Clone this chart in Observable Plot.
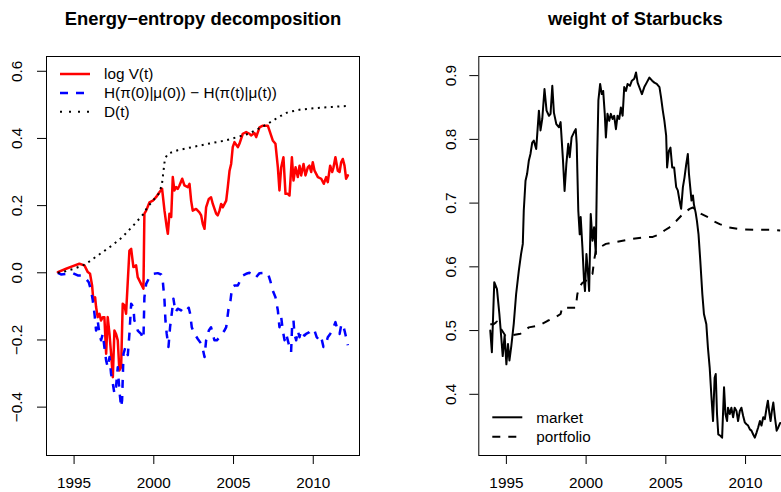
<!DOCTYPE html>
<html><head><meta charset="utf-8">
<script src="https://cdn.jsdelivr.net/npm/d3@7"></script>
<script src="https://cdn.jsdelivr.net/npm/@observablehq/plot@0.6"></script>
<style>
body{margin:0;background:#fff;}
#wrap{display:flex;width:781px;height:492px;overflow:hidden;background:#fff;}
#left{width:390px;height:492px;flex:none;}
#right{width:391px;height:492px;overflow:hidden;flex:none;}
svg{display:block;max-width:none !important;}
</style></head>
<body><div id="wrap"><div id="left"></div><div id="right"></div></div>
<script>
// ---------- tick labels / texts ----------
const xTicks = [1995, 2000, 2005, 2010];
const leftYTicks = [-0.4, -0.2, 0, 0.2, 0.4, 0.6];
const rightYTicks = [0.4, 0.5, 0.6, 0.7, 0.8, 0.9];
const leftTitle = "Energy\u2212entropy decomposition";
const rightTitle = "weight of Starbucks";
const leftLegendLabels = ["log V(t)", "H(\u03c0(0)|\u03bc(0)) \u2212 H(\u03c0(t)|\u03bc(t))", "D(t)"];
const rightLegendLabels = ["market", "portfolio"];

// ---------- left panel series ----------
const logVYears = [1993.98,1994.50,1994.92,1995.33,1995.65,1995.86,1996.00,1996.13,1996.21,1996.32,
1996.38,1996.48,1996.59,1996.69,1996.80,1996.90,1997.01,1997.11,1997.22,1997.32,
1997.43,1997.53,1997.63,1997.74,1997.84,1997.95,1998.05,1998.16,1998.26,1998.47,
1998.58,1998.72,1998.89,1998.99,1999.20,1999.35,1999.41,1999.52,1999.73,1999.94,
2000.14,2000.35,2000.52,2000.67,2000.81,2000.88,2000.98,2001.09,2001.19,2001.29,
2001.40,2001.50,2001.61,2001.78,2001.92,2002.13,2002.24,2002.34,2002.44,2002.65,
2002.86,2002.97,2003.07,2003.18,2003.28,2003.45,2003.59,2003.70,2003.91,2004.01,
2004.12,2004.22,2004.33,2004.54,2004.64,2004.75,2004.85,2004.95,2005.06,2005.27,
2005.37,2005.58,2005.79,2006.00,2006.10,2006.31,2006.42,2006.63,2006.84,2007.15,
2007.25,2007.46,2007.63,2007.78,2007.88,2007.99,2008.13,2008.26,2008.40,2008.51,
2008.66,2008.76,2008.89,2009.03,2009.14,2009.24,2009.39,2009.51,2009.66,2009.76,
2009.87,2009.97,2010.08,2010.29,2010.50,2010.66,2010.81,2010.91,2011.06,2011.19,
2011.27,2011.39,2011.54,2011.65,2011.75,2011.85,2011.96,2012.06,2012.17];
const logV = [0.002,0.012,0.020,0.027,0.022,0.002,-0.003,-0.038,-0.082,-0.073,
-0.102,-0.132,-0.122,-0.142,-0.132,-0.132,-0.241,-0.132,-0.182,-0.241,
-0.311,-0.172,-0.182,-0.201,-0.291,-0.281,-0.092,-0.097,-0.122,0.066,
0.071,0.017,0.022,-0.013,-0.033,-0.047,0.176,0.185,0.210,0.215,
0.225,0.240,0.250,0.185,0.136,0.116,0.176,0.166,0.285,0.245,
0.255,0.250,0.260,0.280,0.260,0.255,0.265,0.215,0.185,0.190,
0.180,0.171,0.146,0.131,0.195,0.220,0.225,0.205,0.176,0.171,
0.185,0.205,0.195,0.215,0.255,0.304,0.324,0.374,0.389,0.374,
0.384,0.414,0.419,0.414,0.409,0.416,0.404,0.433,0.438,0.438,
0.424,0.394,0.384,0.314,0.245,0.314,0.344,0.235,0.235,0.230,
0.344,0.275,0.314,0.285,0.319,0.290,0.324,0.290,0.314,0.319,
0.300,0.329,0.304,0.285,0.280,0.265,0.285,0.270,0.319,0.300,
0.314,0.344,0.304,0.300,0.329,0.339,0.319,0.280,0.290];

const entropyYears = [1993.98,1994.18,1994.50,1994.92,1995.23,1995.54,1995.75,1995.92,1996.07,1996.17,
1996.28,1996.38,1996.48,1996.59,1996.69,1996.80,1996.90,1997.01,1997.11,1997.22,
1997.32,1997.43,1997.53,1997.63,1997.74,1997.84,1997.95,1998.01,1998.10,1998.22,
1998.37,1998.47,1998.58,1998.72,1998.78,1998.89,1998.99,1999.20,1999.35,1999.41,
1999.52,1999.73,1999.94,2000.25,2000.46,2000.56,2000.67,2000.73,2000.81,2000.92,
2001.02,2001.15,2001.23,2001.36,2001.50,2001.71,2001.82,2002.03,2002.19,2002.28,
2002.38,2002.55,2002.76,2002.97,2003.07,2003.18,2003.28,2003.45,2003.59,2003.70,
2003.80,2003.95,2004.12,2004.28,2004.43,2004.54,2004.70,2004.81,2004.91,2005.06,
2005.27,2005.37,2005.58,2005.79,2006.00,2006.21,2006.38,2006.63,2006.94,2007.15,
2007.30,2007.46,2007.63,2007.78,2007.88,2007.99,2008.09,2008.20,2008.30,2008.51,
2008.61,2008.68,2008.76,2008.82,2008.93,2009.03,2009.14,2009.24,2009.35,2009.45,
2009.55,2009.76,2009.87,2009.97,2010.08,2010.22,2010.39,2010.50,2010.64,2010.77,
2010.91,2011.06,2011.19,2011.27,2011.39,2011.54,2011.65,2011.75,2011.85,2011.96,
2012.06,2012.17];
const entropyDiff = [0.000,-0.005,-0.003,-0.001,-0.008,-0.008,-0.018,-0.028,-0.053,-0.082,
-0.122,-0.172,-0.142,-0.182,-0.201,-0.182,-0.221,-0.261,-0.281,-0.251,
-0.301,-0.330,-0.360,-0.340,-0.281,-0.350,-0.400,-0.380,-0.241,-0.221,
-0.245,-0.182,-0.092,-0.102,-0.142,-0.152,-0.172,-0.182,-0.197,-0.073,
-0.033,-0.013,-0.003,-0.001,-0.005,-0.023,-0.082,-0.142,-0.182,-0.221,
-0.162,-0.112,-0.077,-0.117,-0.107,-0.112,-0.104,-0.112,-0.104,-0.122,
-0.162,-0.182,-0.197,-0.211,-0.226,-0.251,-0.201,-0.172,-0.162,-0.182,
-0.201,-0.201,-0.192,-0.182,-0.172,-0.162,-0.102,-0.082,-0.043,-0.038,
-0.038,-0.028,-0.008,-0.003,0.000,-0.005,-0.015,-0.001,0.000,-0.001,
-0.023,-0.053,-0.073,-0.112,-0.162,-0.132,-0.172,-0.201,-0.182,-0.221,
-0.236,-0.152,-0.142,-0.182,-0.201,-0.172,-0.192,-0.172,-0.182,-0.187,
-0.182,-0.177,-0.172,-0.167,-0.172,-0.192,-0.201,-0.192,-0.221,-0.216,
-0.192,-0.182,-0.172,-0.162,-0.147,-0.172,-0.182,-0.157,-0.152,-0.172,
-0.192,-0.216];

const divYears = [1993.98,1994.5,1995.0,1995.7,1996.5,1997.4,1998.0,1998.7,1999.3,1999.6,
2000.3,2000.5,2000.6,2000.7,2000.9,2001.5,2002.5,2003.5,2004.5,2005.3,
2006.0,2006.6,2007.2,2007.8,2008.4,2009.2,2010.3,2011.2,2012.17];
const divergence = [0.000,0.005,0.012,0.025,0.052,0.082,0.105,0.140,0.172,0.195,
0.235,0.260,0.300,0.340,0.355,0.365,0.375,0.385,0.394,0.405,
0.415,0.430,0.445,0.463,0.478,0.486,0.491,0.494,0.497];

// ---------- right panel series ----------
const marketYears = [1993.99,1994.09,1994.24,1994.41,1994.56,1994.68,1994.77,1994.89,1995.00,1995.10,
1995.19,1995.31,1995.46,1995.61,1995.78,1995.92,1996.03,1996.09,1996.20,1996.30,
1996.41,1996.51,1996.62,1996.72,1996.87,1997.04,1997.14,1997.25,1997.39,1997.52,
1997.67,1997.77,1997.88,1997.98,1998.13,1998.30,1998.40,1998.55,1998.65,1998.76,
1998.88,1998.97,1999.09,1999.24,1999.35,1999.41,1999.51,1999.60,1999.66,1999.77,
1999.87,1999.93,2000.02,2000.12,2000.19,2000.29,2000.40,2000.50,2000.61,2000.69,
2000.77,2000.88,2000.98,2001.07,2001.17,2001.24,2001.34,2001.45,2001.55,2001.66,
2001.76,2001.87,2001.97,2002.08,2002.18,2002.29,2002.39,2002.50,2002.60,2002.75,
2002.87,2003.02,2003.13,2003.23,2003.38,2003.50,2003.65,2003.80,2003.97,2004.14,
2004.28,2004.43,2004.60,2004.70,2004.81,2004.91,2005.02,2005.08,2005.19,2005.29,
2005.40,2005.52,2005.65,2005.75,2005.86,2005.96,2006.07,2006.17,2006.28,2006.38,
2006.45,2006.53,2006.61,2006.70,2006.76,2006.87,2006.95,2007.05,2007.16,2007.29,
2007.39,2007.54,2007.64,2007.75,2007.85,2007.96,2008.06,2008.13,2008.21,2008.29,
2008.42,2008.53,2008.65,2008.74,2008.84,2008.90,2009.01,2009.11,2009.22,2009.32,
2009.43,2009.53,2009.64,2009.74,2009.85,2009.95,2010.06,2010.16,2010.27,2010.37,
2010.48,2010.58,2010.69,2010.79,2010.90,2011.00,2011.11,2011.21,2011.32,2011.40,
2011.49,2011.57,2011.65,2011.74,2011.84,2011.95,2012.05,2012.17];
const marketWeight = [0.500,0.466,0.576,0.565,0.526,0.489,0.460,0.492,0.447,0.479,
0.453,0.476,0.510,0.557,0.594,0.620,0.636,0.688,0.735,0.746,
0.767,0.777,0.795,0.798,0.785,0.845,0.814,0.832,0.879,0.845,
0.837,0.840,0.884,0.842,0.824,0.819,0.827,0.767,0.719,0.761,
0.793,0.772,0.803,0.811,0.816,0.793,0.688,0.651,0.678,0.630,
0.578,0.562,0.620,0.589,0.562,0.683,0.641,0.662,0.620,0.767,
0.861,0.887,0.871,0.876,0.840,0.803,0.840,0.829,0.840,0.832,
0.837,0.816,0.837,0.832,0.850,0.837,0.882,0.876,0.887,0.884,
0.892,0.895,0.905,0.889,0.879,0.871,0.882,0.889,0.897,0.892,
0.889,0.887,0.882,0.866,0.845,0.829,0.806,0.756,0.782,0.787,
0.756,0.756,0.725,0.720,0.704,0.691,0.725,0.740,0.761,0.777,
0.746,0.725,0.704,0.712,0.698,0.685,0.672,0.651,0.610,0.557,
0.526,0.510,0.473,0.442,0.400,0.358,0.426,0.432,0.369,0.337,
0.335,0.332,0.411,0.369,0.358,0.379,0.369,0.379,0.364,0.379,
0.374,0.358,0.374,0.379,0.366,0.356,0.353,0.351,0.345,0.343,
0.337,0.332,0.340,0.348,0.358,0.351,0.364,0.361,0.379,0.390,
0.371,0.358,0.374,0.387,0.364,0.343,0.348,0.355];

const portfolioYears = [1993.99,1994.20,1994.41,1994.60,1994.94,1995.25,1995.88,1996.41,1997.04,1997.56,
1998.09,1998.40,1998.50,1998.93,1999.35,1999.45,1999.56,1999.77,1999.98,2000.19,
2000.40,2000.50,2000.61,2000.82,2001.24,2001.66,2002.29,2002.92,2003.55,2004.18,
2004.60,2004.91,2005.23,2005.65,2006.07,2006.49,2006.70,2006.91,2007.22,2007.64,
2007.96,2008.38,2008.90,2009.64,2010.69,2011.74,2012.17];
const portfolioWeight = [0.510,0.510,0.514,0.505,0.492,0.492,0.495,0.505,0.508,0.515,
0.521,0.526,0.536,0.536,0.536,0.557,0.568,0.575,0.578,0.586,
0.589,0.610,0.625,0.630,0.636,0.638,0.641,0.644,0.646,0.647,
0.651,0.657,0.662,0.672,0.683,0.691,0.693,0.688,0.683,0.678,
0.672,0.667,0.662,0.659,0.658,0.658,0.657];

// ---------- drawing ----------
const FONT = '"Liberation Sans", Arial, Helvetica, sans-serif';
const FS = 15.3;
const rows = (xs, ys) => d3.range(Math.min(xs.length, ys.length)).map(i => ({t: xs[i], v: ys[i]}));
const fmt1 = d3.format(".1f");

function yLabels(ticks, dx) {
  return Plot.text(ticks, {y: d => d, text: d => fmt1(d), frameAnchor: "left", dx,
    rotate: -90, textAnchor: "middle", lineAnchor: "middle", fontSize: FS, fill: "black"});
}
function titleMark(t) {
  return Plot.text([t], {text: d => d, frameAnchor: "top", dy: -37.4, lineAnchor: "middle",
    fontWeight: "bold", fontSize: 18.4, fill: "black"});
}
function addLegend(svg, items, x0, y0, step) {
  const g = d3.select(svg).append("g").attr("font-family", FONT).attr("font-size", FS)
    .attr("text-anchor", "start");
  items.forEach((it, i) => {
    const y = y0 + i * step;
    g.append("line").attr("x1", x0 + 14).attr("x2", x0 + 44).attr("y1", y).attr("y2", y)
      .attr("stroke", it.color).attr("stroke-width", it.width)
      .attr("stroke-dasharray", it.dash || null).attr("stroke-linecap", "butt");
    g.append("text").attr("x", x0 + 58).attr("y", y).attr("dy", "0.35em")
      .attr("text-anchor", "start").attr("fill", "black").text(it.label);
  });
}

const common = {height: 492, marginTop: 56, marginBottom: 37,
  style: {fontFamily: FONT, fontSize: FS + "px", background: "white", color: "black", maxWidth: "none"}};

const left = Plot.plot({
  ...common, width: 390, marginLeft: 46, marginRight: 31,
  x: {domain: [1993.27, 2012.9], ticks: xTicks, tickSize: 9, tickPadding: 13, tickFormat: d => String(d), label: null},
  y: {domain: [-0.544, 0.644], ticks: leftYTicks, tickSize: 9, tickFormat: () => "", label: null},
  marks: [
    Plot.frame({stroke: "black"}),
    Plot.line(rows(logVYears, logV), {x: "t", y: "v", stroke: "#ff0000", strokeWidth: 2.5}),
    Plot.line(rows(entropyYears, entropyDiff), {x: "t", y: "v", stroke: "#0000ff", strokeWidth: 2.5, strokeDasharray: "8,8", strokeLinecap: "butt"}),
    Plot.line(rows(divYears, divergence), {x: "t", y: "v", stroke: "black", strokeWidth: 2, strokeDasharray: "2,4.5", strokeLinecap: "butt"}),
    yLabels(leftYTicks, -29.3),
    titleMark(leftTitle)
  ]
});
addLegend(left, [
  {label: leftLegendLabels[0], color: "#ff0000", width: 2.5},
  {label: leftLegendLabels[1], color: "#0000ff", width: 2.5, dash: "8,8"},
  {label: leftLegendLabels[2], color: "black", width: 2, dash: "2,7"}
], 46, 74, 18.9);
document.getElementById("left").appendChild(left);

const right = Plot.plot({
  ...common, width: 432, marginLeft: 88.3, marginRight: 30.7,
  x: {domain: [1993.27, 2012.9], ticks: xTicks, tickSize: 9, tickPadding: 13, tickFormat: d => String(d), label: null},
  y: {domain: [0.304, 0.93], ticks: rightYTicks, tickSize: 9, tickFormat: () => "", label: null},
  marks: [
    Plot.frame({stroke: "black"}),
    Plot.line(rows(marketYears, marketWeight), {x: "t", y: "v", stroke: "black", strokeWidth: 2}),
    Plot.line(rows(portfolioYears, portfolioWeight), {x: "t", y: "v", stroke: "black", strokeWidth: 2, strokeDasharray: "8,8", strokeLinecap: "butt"}),
    yLabels(rightYTicks, -27.5),
    titleMark(rightTitle)
  ]
});
addLegend(right, [
  {label: rightLegendLabels[0], color: "black", width: 2},
  {label: rightLegendLabels[1], color: "black", width: 2, dash: "8,8"}
], 88.3, 417.3, 19.4);
document.getElementById("right").appendChild(right);
</script>
</body></html>
